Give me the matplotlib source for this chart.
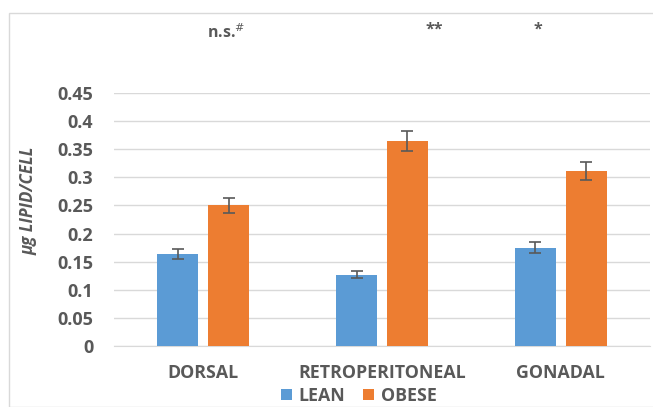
import matplotlib
matplotlib.use("Agg")
import matplotlib.pyplot as plt
import numpy as np
from matplotlib.patches import Rectangle

categories = ["DORSAL", "RETROPERITONEAL", "GONADAL"]
lean = [0.163, 0.127, 0.175]
lean_err = [0.009, 0.0065, 0.0095]
obese = [0.250, 0.365, 0.312]
obese_err = [0.013, 0.018, 0.016]
yticks = [0, 0.05, 0.1, 0.15, 0.2, 0.25, 0.3, 0.35, 0.4, 0.45]
ytick_labels = ["0", "0.05", "0.1", "0.15", "0.2", "0.25", "0.3", "0.35", "0.4", "0.45"]

TXT = "#595959"
BLUE = "#5B9BD5"
ORANGE = "#ED7D31"
FONT = "Open Sans"

W, H = 653, 407
fig = plt.figure(figsize=(W / 100, H / 100), dpi=100)
fig.patch.set_facecolor("white")

# outer chart border
fig.add_artist(Rectangle((8.5 / W, 0), 1, 1 - 12.5 / H, transform=fig.transFigure,
                         fill=False, edgecolor="#D9D9D9", linewidth=1))

left, right = 114 / W, 650 / W
bottom, top = 1 - 346 / H, 1 - 93 / H
ax = fig.add_axes([left, bottom, right - left, top - bottom])

x = np.arange(len(categories))
bw = 0.23
gap = 0.055
ekw = dict(ecolor="#595959", elinewidth=1.2, capsize=4, capthick=1.2)
ax.bar(x - (bw + gap) / 2, lean, bw, yerr=lean_err, color=BLUE, label="LEAN",
       error_kw=ekw, zorder=3)
ax.bar(x + (bw + gap) / 2, obese, bw, yerr=obese_err, color=ORANGE, label="OBESE",
       error_kw=ekw, zorder=3)

ax.set_xlim(-0.5, 2.5)
ax.set_ylim(0, 0.45)
ax.set_yticks(yticks)
ax.set_yticklabels(ytick_labels)
ax.yaxis.grid(True, color="#D9D9D9", linewidth=1, zorder=0)
ax.set_axisbelow(True)
for s in ["top", "right", "left"]:
    ax.spines[s].set_visible(False)
ax.spines["bottom"].set_color("#D9D9D9")
ax.tick_params(axis="y", length=0, pad=15, labelsize=13, labelcolor=TXT)
ax.tick_params(axis="x", length=0, pad=13, labelsize=12.8, labelcolor=TXT)
ax.set_xticks(x)
ax.set_xticklabels(categories)
for lbl in ax.get_xticklabels() + ax.get_yticklabels():
    lbl.set_fontweight("bold")
    lbl.set_family(FONT)

fig.text(29 / W, 1 - 201 / H, "µg LIPID/CELL", rotation=90, ha="center", va="center",
         fontsize=12.2, fontweight="bold", style="italic", color=TXT, family=FONT)

fig.text(226 / W, 1 - 33 / H, "n.s.$^{\\#}$", ha="center", va="center", fontsize=11.5,
         fontweight="bold", color=TXT, family=FONT)
fig.text(434 / W, 1 - 30 / H, "**", ha="center", va="center", fontsize=11.5,
         fontweight="bold", color=TXT, family=FONT)
fig.text(538 / W, 1 - 30 / H, "*", ha="center", va="center", fontsize=11.5,
         fontweight="bold", color=TXT, family=FONT)

leg = fig.legend(loc="center", bbox_to_anchor=(359 / W, 1 - 396 / H), ncol=2, frameon=False,
                 prop={"family": FONT, "weight": "bold", "size": 12.8},
                 handlelength=0.6, handleheight=0.6, handletextpad=0.4, columnspacing=1.0,
                 labelcolor=TXT)

fig.savefig("out.png", dpi=100, facecolor="white")
